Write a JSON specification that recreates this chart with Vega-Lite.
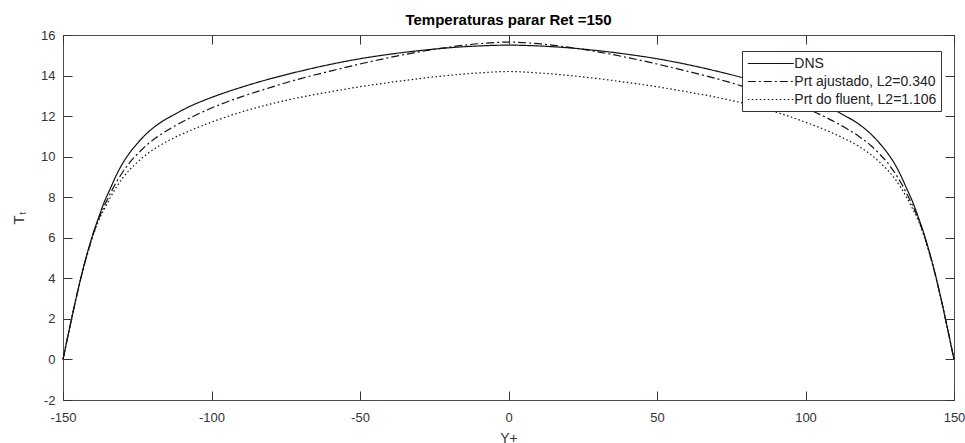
{
  "$schema": "https://vega.github.io/schema/vega-lite/v6.json",
  "width": 891,
  "height": 365,
  "autosize": {"type": "none"},
  "padding": {"left": 63, "top": 35, "right": 11, "bottom": 43},
  "background": "white",
  "title": {
    "text": "Temperaturas parar Ret =150",
    "font": "Liberation Sans",
    "fontSize": 15,
    "fontWeight": "bold",
    "color": "#000000",
    "anchor": "middle",
    "frame": "group",
    "offset": 1
  },
  "config": {
    "view": {"stroke": "#4d4d4d", "strokeWidth": 1},
    "axis": {
      "labelFont": "Liberation Sans",
      "titleFont": "Liberation Sans",
      "labelColor": "#333333",
      "titleColor": "#333333",
      "grid": false
    }
  },
  "data": {"values": [
    {"s":"DNS","x":-150,"y":0},{"s":"DNS","x":-149,"y":0.70},{"s":"DNS","x":-148,"y":1.40},{"s":"DNS","x":-147,"y":2.08},{"s":"DNS","x":-146,"y":2.76},{"s":"DNS","x":-145,"y":3.40},{"s":"DNS","x":-144,"y":4.02},{"s":"DNS","x":-143,"y":4.60},{"s":"DNS","x":-142,"y":5.15},{"s":"DNS","x":-141,"y":5.66},{"s":"DNS","x":-140,"y":6.15},{"s":"DNS","x":-138,"y":7.00},{"s":"DNS","x":-136,"y":7.80},{"s":"DNS","x":-134,"y":8.45},{"s":"DNS","x":-132,"y":9.10},{"s":"DNS","x":-130,"y":9.65},{"s":"DNS","x":-127.5,"y":10.20},{"s":"DNS","x":-125,"y":10.65},{"s":"DNS","x":-122,"y":11.12},{"s":"DNS","x":-118,"y":11.60},{"s":"DNS","x":-113,"y":12.04},{"s":"DNS","x":-107,"y":12.50},{"s":"DNS","x":-100,"y":12.92},{"s":"DNS","x":-90,"y":13.42},{"s":"DNS","x":-80,"y":13.85},{"s":"DNS","x":-70,"y":14.22},{"s":"DNS","x":-60,"y":14.55},{"s":"DNS","x":-50,"y":14.83},{"s":"DNS","x":-40,"y":15.05},{"s":"DNS","x":-30,"y":15.23},{"s":"DNS","x":-20,"y":15.37},{"s":"DNS","x":-10,"y":15.46},{"s":"DNS","x":0,"y":15.50},
    {"s":"DNS","x":10,"y":15.46},{"s":"DNS","x":20,"y":15.37},{"s":"DNS","x":30,"y":15.23},{"s":"DNS","x":40,"y":15.05},{"s":"DNS","x":50,"y":14.83},{"s":"DNS","x":60,"y":14.55},{"s":"DNS","x":70,"y":14.22},{"s":"DNS","x":80,"y":13.85},{"s":"DNS","x":90,"y":13.42},{"s":"DNS","x":100,"y":12.92},{"s":"DNS","x":107,"y":12.50},{"s":"DNS","x":113,"y":12.04},{"s":"DNS","x":118,"y":11.60},{"s":"DNS","x":122,"y":11.12},{"s":"DNS","x":125,"y":10.65},{"s":"DNS","x":127.5,"y":10.20},{"s":"DNS","x":130,"y":9.65},{"s":"DNS","x":132,"y":9.10},{"s":"DNS","x":134,"y":8.45},{"s":"DNS","x":136,"y":7.80},{"s":"DNS","x":138,"y":7.00},{"s":"DNS","x":140,"y":6.15},{"s":"DNS","x":141,"y":5.66},{"s":"DNS","x":142,"y":5.15},{"s":"DNS","x":143,"y":4.60},{"s":"DNS","x":144,"y":4.02},{"s":"DNS","x":145,"y":3.40},{"s":"DNS","x":146,"y":2.76},{"s":"DNS","x":147,"y":2.08},{"s":"DNS","x":148,"y":1.40},{"s":"DNS","x":149,"y":0.70},{"s":"DNS","x":150,"y":0},

    {"s":"Prt ajustado, L2=0.340","x":-150,"y":0},{"s":"Prt ajustado, L2=0.340","x":-149,"y":0.70},{"s":"Prt ajustado, L2=0.340","x":-148,"y":1.40},{"s":"Prt ajustado, L2=0.340","x":-147,"y":2.08},{"s":"Prt ajustado, L2=0.340","x":-146,"y":2.75},{"s":"Prt ajustado, L2=0.340","x":-145,"y":3.39},{"s":"Prt ajustado, L2=0.340","x":-144,"y":4.00},{"s":"Prt ajustado, L2=0.340","x":-143,"y":4.58},{"s":"Prt ajustado, L2=0.340","x":-142,"y":5.12},{"s":"Prt ajustado, L2=0.340","x":-141,"y":5.62},{"s":"Prt ajustado, L2=0.340","x":-140,"y":6.10},{"s":"Prt ajustado, L2=0.340","x":-138,"y":6.92},{"s":"Prt ajustado, L2=0.340","x":-136,"y":7.60},{"s":"Prt ajustado, L2=0.340","x":-134,"y":8.20},{"s":"Prt ajustado, L2=0.340","x":-132,"y":8.75},{"s":"Prt ajustado, L2=0.340","x":-130,"y":9.22},{"s":"Prt ajustado, L2=0.340","x":-127.5,"y":9.72},{"s":"Prt ajustado, L2=0.340","x":-125,"y":10.12},{"s":"Prt ajustado, L2=0.340","x":-122,"y":10.55},{"s":"Prt ajustado, L2=0.340","x":-118,"y":11.00},{"s":"Prt ajustado, L2=0.340","x":-113,"y":11.46},{"s":"Prt ajustado, L2=0.340","x":-107,"y":11.93},{"s":"Prt ajustado, L2=0.340","x":-100,"y":12.40},{"s":"Prt ajustado, L2=0.340","x":-90,"y":12.95},{"s":"Prt ajustado, L2=0.340","x":-80,"y":13.42},{"s":"Prt ajustado, L2=0.340","x":-70,"y":13.85},{"s":"Prt ajustado, L2=0.340","x":-60,"y":14.22},{"s":"Prt ajustado, L2=0.340","x":-50,"y":14.57},{"s":"Prt ajustado, L2=0.340","x":-40,"y":14.89},{"s":"Prt ajustado, L2=0.340","x":-30,"y":15.17},{"s":"Prt ajustado, L2=0.340","x":-20,"y":15.40},{"s":"Prt ajustado, L2=0.340","x":-10,"y":15.57},{"s":"Prt ajustado, L2=0.340","x":0,"y":15.65},
    {"s":"Prt ajustado, L2=0.340","x":10,"y":15.57},{"s":"Prt ajustado, L2=0.340","x":20,"y":15.40},{"s":"Prt ajustado, L2=0.340","x":30,"y":15.17},{"s":"Prt ajustado, L2=0.340","x":40,"y":14.89},{"s":"Prt ajustado, L2=0.340","x":50,"y":14.57},{"s":"Prt ajustado, L2=0.340","x":60,"y":14.22},{"s":"Prt ajustado, L2=0.340","x":70,"y":13.85},{"s":"Prt ajustado, L2=0.340","x":80,"y":13.42},{"s":"Prt ajustado, L2=0.340","x":90,"y":12.95},{"s":"Prt ajustado, L2=0.340","x":100,"y":12.40},{"s":"Prt ajustado, L2=0.340","x":107,"y":11.93},{"s":"Prt ajustado, L2=0.340","x":113,"y":11.46},{"s":"Prt ajustado, L2=0.340","x":118,"y":11.00},{"s":"Prt ajustado, L2=0.340","x":122,"y":10.55},{"s":"Prt ajustado, L2=0.340","x":125,"y":10.12},{"s":"Prt ajustado, L2=0.340","x":127.5,"y":9.72},{"s":"Prt ajustado, L2=0.340","x":130,"y":9.22},{"s":"Prt ajustado, L2=0.340","x":132,"y":8.75},{"s":"Prt ajustado, L2=0.340","x":134,"y":8.20},{"s":"Prt ajustado, L2=0.340","x":136,"y":7.60},{"s":"Prt ajustado, L2=0.340","x":138,"y":6.92},{"s":"Prt ajustado, L2=0.340","x":140,"y":6.10},{"s":"Prt ajustado, L2=0.340","x":141,"y":5.62},{"s":"Prt ajustado, L2=0.340","x":142,"y":5.12},{"s":"Prt ajustado, L2=0.340","x":143,"y":4.58},{"s":"Prt ajustado, L2=0.340","x":144,"y":4.00},{"s":"Prt ajustado, L2=0.340","x":145,"y":3.39},{"s":"Prt ajustado, L2=0.340","x":146,"y":2.75},{"s":"Prt ajustado, L2=0.340","x":147,"y":2.08},{"s":"Prt ajustado, L2=0.340","x":148,"y":1.40},{"s":"Prt ajustado, L2=0.340","x":149,"y":0.70},{"s":"Prt ajustado, L2=0.340","x":150,"y":0},

    {"s":"Prt do fluent, L2=1.106","x":-150,"y":0},{"s":"Prt do fluent, L2=1.106","x":-149,"y":0.70},{"s":"Prt do fluent, L2=1.106","x":-148,"y":1.39},{"s":"Prt do fluent, L2=1.106","x":-147,"y":2.07},{"s":"Prt do fluent, L2=1.106","x":-146,"y":2.74},{"s":"Prt do fluent, L2=1.106","x":-145,"y":3.37},{"s":"Prt do fluent, L2=1.106","x":-144,"y":3.98},{"s":"Prt do fluent, L2=1.106","x":-143,"y":4.55},{"s":"Prt do fluent, L2=1.106","x":-142,"y":5.08},{"s":"Prt do fluent, L2=1.106","x":-141,"y":5.58},{"s":"Prt do fluent, L2=1.106","x":-140,"y":6.05},{"s":"Prt do fluent, L2=1.106","x":-138,"y":6.85},{"s":"Prt do fluent, L2=1.106","x":-136,"y":7.45},{"s":"Prt do fluent, L2=1.106","x":-134,"y":8.00},{"s":"Prt do fluent, L2=1.106","x":-132,"y":8.50},{"s":"Prt do fluent, L2=1.106","x":-130,"y":8.93},{"s":"Prt do fluent, L2=1.106","x":-127.5,"y":9.36},{"s":"Prt do fluent, L2=1.106","x":-125,"y":9.72},{"s":"Prt do fluent, L2=1.106","x":-122,"y":10.10},{"s":"Prt do fluent, L2=1.106","x":-118,"y":10.50},{"s":"Prt do fluent, L2=1.106","x":-113,"y":10.90},{"s":"Prt do fluent, L2=1.106","x":-107,"y":11.30},{"s":"Prt do fluent, L2=1.106","x":-100,"y":11.70},{"s":"Prt do fluent, L2=1.106","x":-90,"y":12.20},{"s":"Prt do fluent, L2=1.106","x":-80,"y":12.60},{"s":"Prt do fluent, L2=1.106","x":-70,"y":12.93},{"s":"Prt do fluent, L2=1.106","x":-60,"y":13.20},{"s":"Prt do fluent, L2=1.106","x":-50,"y":13.45},{"s":"Prt do fluent, L2=1.106","x":-40,"y":13.66},{"s":"Prt do fluent, L2=1.106","x":-30,"y":13.85},{"s":"Prt do fluent, L2=1.106","x":-20,"y":14.01},{"s":"Prt do fluent, L2=1.106","x":-10,"y":14.13},{"s":"Prt do fluent, L2=1.106","x":0,"y":14.20},
    {"s":"Prt do fluent, L2=1.106","x":10,"y":14.13},{"s":"Prt do fluent, L2=1.106","x":20,"y":14.01},{"s":"Prt do fluent, L2=1.106","x":30,"y":13.85},{"s":"Prt do fluent, L2=1.106","x":40,"y":13.66},{"s":"Prt do fluent, L2=1.106","x":50,"y":13.45},{"s":"Prt do fluent, L2=1.106","x":60,"y":13.20},{"s":"Prt do fluent, L2=1.106","x":70,"y":12.93},{"s":"Prt do fluent, L2=1.106","x":80,"y":12.60},{"s":"Prt do fluent, L2=1.106","x":90,"y":12.20},{"s":"Prt do fluent, L2=1.106","x":100,"y":11.70},{"s":"Prt do fluent, L2=1.106","x":107,"y":11.30},{"s":"Prt do fluent, L2=1.106","x":113,"y":10.90},{"s":"Prt do fluent, L2=1.106","x":118,"y":10.50},{"s":"Prt do fluent, L2=1.106","x":122,"y":10.10},{"s":"Prt do fluent, L2=1.106","x":125,"y":9.72},{"s":"Prt do fluent, L2=1.106","x":127.5,"y":9.36},{"s":"Prt do fluent, L2=1.106","x":130,"y":8.93},{"s":"Prt do fluent, L2=1.106","x":132,"y":8.50},{"s":"Prt do fluent, L2=1.106","x":134,"y":8.00},{"s":"Prt do fluent, L2=1.106","x":136,"y":7.45},{"s":"Prt do fluent, L2=1.106","x":138,"y":6.85},{"s":"Prt do fluent, L2=1.106","x":140,"y":6.05},{"s":"Prt do fluent, L2=1.106","x":141,"y":5.58},{"s":"Prt do fluent, L2=1.106","x":142,"y":5.08},{"s":"Prt do fluent, L2=1.106","x":143,"y":4.55},{"s":"Prt do fluent, L2=1.106","x":144,"y":3.98},{"s":"Prt do fluent, L2=1.106","x":145,"y":3.37},{"s":"Prt do fluent, L2=1.106","x":146,"y":2.74},{"s":"Prt do fluent, L2=1.106","x":147,"y":2.07},{"s":"Prt do fluent, L2=1.106","x":148,"y":1.39},{"s":"Prt do fluent, L2=1.106","x":149,"y":0.70},{"s":"Prt do fluent, L2=1.106","x":150,"y":0}
  ]},
  "resolve": {"axis": {"x": "independent", "y": "independent"}},
  "layer": [
    {
      "mark": {"type": "line", "interpolate": "monotone", "strokeWidth": 1.2, "color": "#111111"},
      "encoding": {
        "x": {
          "field": "x", "type": "quantitative",
          "scale": {"domain": [-150, 150], "nice": false, "zero": false},
          "axis": {
            "orient": "bottom",
            "values": [-150, -100, -50, 0, 50, 100, 150],
            "domain": false,
            "ticks": true,
            "tickSize": 9,
            "tickWidth": 1,
            "tickColor": "#333333",
            "tickOpacity": 1,
            "offset": -9,
            "zindex": 1,
            "labelExpr": "'' + datum.value",
            "labelPadding": 11,
            "labelFontSize": 13,
            "labelFlush": false,
            "labelOverlap": false,
            "title": "Y+",
            "titleFontSize": 14,
            "titleFontWeight": "normal",
            "titlePadding": 7
          }
        },
        "y": {
          "field": "y", "type": "quantitative",
          "scale": {"domain": [-2, 16], "nice": false, "zero": false},
          "axis": {
            "orient": "left",
            "values": [-2, 0, 2, 4, 6, 8, 10, 12, 14, 16],
            "domain": false,
            "ticks": true,
            "tickSize": 9,
            "tickWidth": 1,
            "tickColor": "#333333",
            "tickOpacity": 1,
            "offset": -9,
            "zindex": 1,
            "labelExpr": "'' + datum.value",
            "labelPadding": 8,
            "labelFontSize": 13,
            "labelFlush": false,
            "labelOverlap": false,
            "title": "Tₜ",
            "titleFontSize": 15,
            "titleFontWeight": "normal",
            "titlePadding": 14
          }
        },
        "strokeDash": {
          "field": "s", "type": "nominal",
          "scale": {
            "domain": ["DNS", "Prt ajustado, L2=0.340", "Prt do fluent, L2=1.106"],
            "range": [[1, 0], [8, 3, 2, 3], [1.5, 2.5]]
          },
          "legend": {
            "title": null,
            "orient": "none",
            "legendX": 679,
            "legendY": 16,
            "symbolType": "M-3,0H3",
            "symbolSize": 235,
            "symbolOffset": 16.3,
            "symbolStrokeWidth": 1.2,
            "symbolStrokeColor": "#111111",
            "symbolFillColor": "transparent",
            "labelFont": "Liberation Sans",
            "labelFontSize": 14,
            "labelColor": "#222222",
            "labelOffset": 15,
            "rowPadding": 2,
            "padding": 4,
            "strokeColor": "#333333",
            "fillColor": "white",
            "cornerRadius": 0
          }
        }
      }
    },
    {
      "mark": {"type": "line", "opacity": 0},
      "encoding": {
        "x": {
          "field": "x", "type": "quantitative",
          "axis": {"orient": "top", "values": [-150, -100, -50, 0, 50, 100, 150], "labels": false, "title": null, "domain": false, "ticks": true, "tickSize": 9, "tickWidth": 1, "tickColor": "#333333", "tickOpacity": 1, "offset": -9, "zindex": 1}
        },
        "y": {
          "field": "y", "type": "quantitative",
          "axis": {"orient": "right", "values": [-2, 0, 2, 4, 6, 8, 10, 12, 14, 16], "labels": false, "title": null, "domain": false, "ticks": true, "tickSize": 9, "tickWidth": 1, "tickColor": "#333333", "tickOpacity": 1, "offset": -9, "zindex": 1}
        },
        "detail": {"field": "s", "type": "nominal"}
      }
    }
  ]
}
